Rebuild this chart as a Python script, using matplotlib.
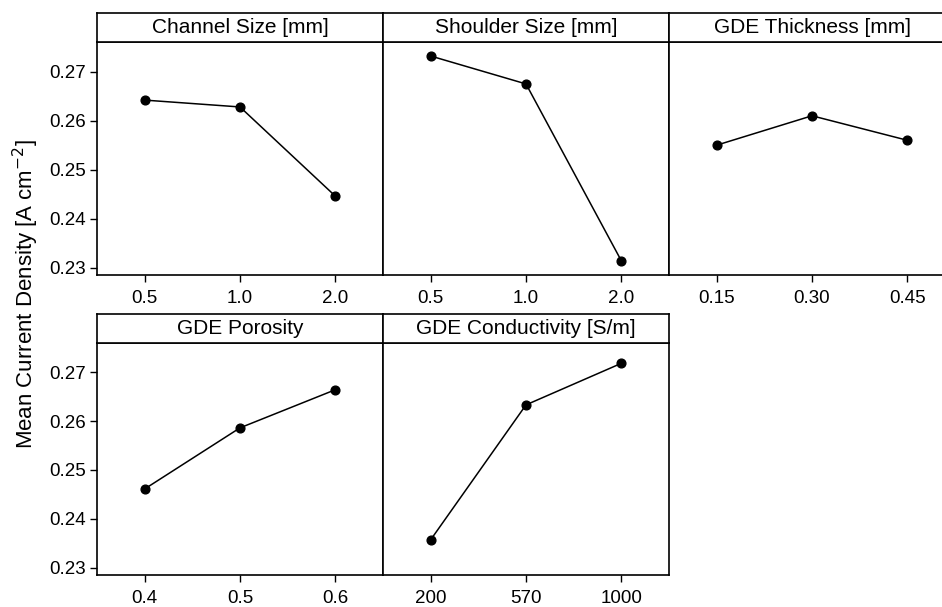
import numpy as np
import matplotlib
matplotlib.use("Agg")
import matplotlib.pyplot as plt

plt.rcParams['font.family'] = ['Liberation Sans', 'DejaVu Sans']

# Main-effect means for each factor (3 levels each)
factors = ['Channel Size [mm]', 'Shoulder Size [mm]', 'GDE Thickness [mm]',
           'GDE Porosity', 'GDE Conductivity [S/m]']
level_labels = [
    ['0.5', '1.0', '2.0'],
    ['0.5', '1.0', '2.0'],
    ['0.15', '0.30', '0.45'],
    ['0.4', '0.5', '0.6'],
    ['200', '570', '1000'],
]
channel_size = [0.2642, 0.2628, 0.2446]
shoulder_size = [0.2732, 0.2675, 0.2314]
gde_thickness = [0.2550, 0.2610, 0.2560]
gde_porosity = [0.2461, 0.2586, 0.2664]
gde_conductivity = [0.2357, 0.2633, 0.2718]
means = [channel_size, shoulder_size, gde_thickness, gde_porosity, gde_conductivity]

y_ticks = [0.23, 0.24, 0.25, 0.26, 0.27]
y_label = 'Mean Current Density [A cm$^{-2}$]'

W, H = 942, 607
fig = plt.figure(figsize=(W / 100, H / 100), dpi=100)

# panel geometry in pixels
left0 = 97
pw = 286
strip_h = 29
rows = [(13, 275), (313.5, 575)]  # (strip top, panel bottom)


def px_box(x0, y0, x1, y1):
    return [x0 / W, 1 - y1 / H, (x1 - x0) / W, (y1 - y0) / H]


for i, (name, labels, vals) in enumerate(zip(factors, level_labels, means)):
    r, c = divmod(i, 3)
    top, bottom = rows[r]
    x0 = left0 + c * pw
    x1 = x0 + pw
    ax = fig.add_axes(px_box(x0, top + strip_h, x1, bottom))
    pos = np.arange(1, len(vals) + 1)
    ax.plot(pos, vals, color='black', lw=1.1, marker='o', ms=6.3)
    ax.set_xlim(0.5, 3.5)
    ax.set_ylim(0.2285, 0.27606)
    ax.set_xticks(pos)
    ax.set_xticklabels(labels)
    ax.set_yticks(y_ticks)
    ax.tick_params(direction='out', length=5, width=1.0, labelsize=13.5,
                   top=False, right=False)
    ax.tick_params(axis='x', pad=6)
    ax.tick_params(axis='y', pad=3)
    if c != 0:
        ax.tick_params(axis='y', left=False, labelleft=False)
    for s in ax.spines.values():
        s.set_linewidth(1.2)

    sax = fig.add_axes(px_box(x0, top, x1, top + strip_h))
    sax.set_xticks([])
    sax.set_yticks([])
    for s in sax.spines.values():
        s.set_linewidth(1.2)
    sax.text(0.5, 0.5, name, ha='center', va='center', fontsize=15,
             transform=sax.transAxes)

fig.text(26 / W, 1 - 294 / H, y_label, rotation=90, ha='center', va='center',
         fontsize=16)

fig.savefig('out.png', dpi=100)
